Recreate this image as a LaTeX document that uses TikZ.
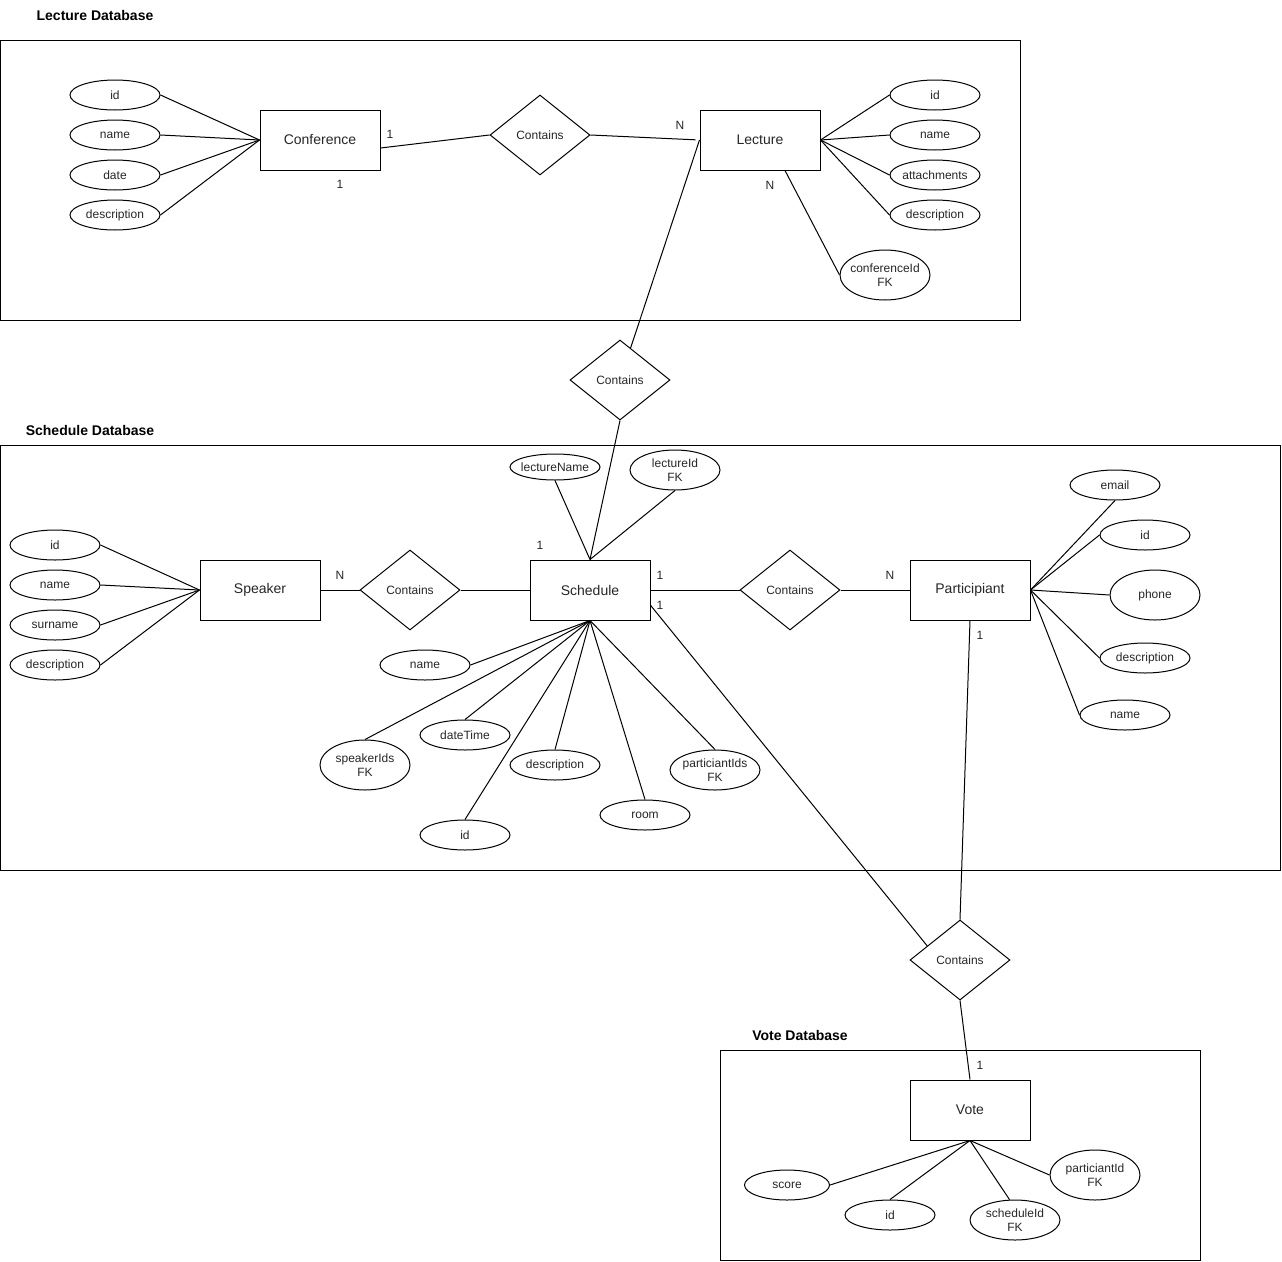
\documentclass[tikz,border=0pt]{standalone}
\usepackage{fontspec}
\setmainfont{Liberation Sans}
\usetikzlibrary{shapes.geometric,calc}

\begin{document}
\begin{tikzpicture}[x=1pt,y=-1pt,line width=1pt,
    every node/.style={text=black!85,font=\fontsize{12}{14}\selectfont},
    entity/.style={draw=black,rectangle,minimum width=120pt,minimum height=60pt,inner sep=0pt,font=\fontsize{14}{16}\selectfont},
    attr/.style={draw=black,ellipse,minimum width=90pt,minimum height=30pt,inner xsep=-12pt,inner ysep=-2pt,align=center},
    rel/.style={draw=black,diamond,aspect=1.25,minimum width=100pt,minimum height=80pt,inner sep=0pt},
    dbframe/.style={draw=black},
    dbtitle/.style={text=black,font=\bfseries\fontsize{14}{16}\selectfont},
    card/.style={inner sep=0pt}]
    \useasboundingbox (0,0) rectangle (1282,1261);
    % Lecture database
    \draw[dbframe] (0.5,40) rectangle (1020,320);
    \node[dbtitle] (lectitle) at (95,15) {Lecture Database};
    \node[entity] (conf) at (320,140) {Conference};
    \node[attr] (confid) at (115,95) {id};
    \node[attr] (confname) at (115,135) {name};
    \node[attr] (confdate) at (115,175) {date};
    \node[attr] (confdesc) at (115,215) {description};
    \node[rel] (contlec) at (540,135) {Contains};
    \node[entity] (lec) at (760,140) {Lecture};
    \node[attr] (lecid) at (935,95) {id};
    \node[attr] (lecname) at (935,135) {name};
    \node[attr] (lecatt) at (935,175) {attachments};
    \node[attr] (lecdesc) at (935,215) {description};
    \node[attr,minimum height=50pt] (lecconf) at (885,275) {conferenceId\\FK};
    \foreach \a in {confid,confname,confdate,confdesc}
        \draw (\a.east) -- (conf.west);
    \foreach \a in {lecid,lecname,lecatt,lecdesc}
        \draw (lec.east) -- (\a.west);
    \draw ($(conf.east)+(0,8)$) -- (contlec.west);
    \draw[shorten >=4pt] (contlec.east) -- (lec.west);
    \draw ($(lec.south)+(25,0)$) -- (lecconf.west);
    \node[card] (n1) at (390,134) {1};
    \node[card] (n2) at (340,184) {1};
    \node[card] (n3) at (680,125) {N};
    \node[card] (n4) at (770,185) {N};
    % Lecture to schedule
    \node[rel] (contsch) at (620,380) {Contains};
    \draw (lec.west) -- (contsch);
    % Schedule database
    \draw[dbframe] (0.5,445) rectangle (1280,870);
    \node[dbtitle] (schtitle) at (90,430) {Schedule Database};
    \node[entity] (spk) at (260,590) {Speaker};
    \node[attr] (spkid) at (55,545) {id};
    \node[attr] (spkname) at (55,585) {name};
    \node[attr] (spksur) at (55,625) {surname};
    \node[attr] (spkdesc) at (55,665) {description};
    \node[rel] (contspk) at (410,590) {Contains};
    \node[entity] (sch) at (590,590) {Schedule};
    \node[rel] (contpart) at (790,590) {Contains};
    \node[entity] (part) at (970,590) {Participiant};
    \node[attr,minimum height=26pt] (schlname) at (555,467) {lectureName};
    \node[attr,minimum height=40pt] (schlid) at (675,470) {lectureId\\FK};
    \node[attr] (schname) at (425,665) {name};
    \node[attr,minimum height=50pt] (schspk) at (365,765) {speakerIds\\FK};
    \node[attr] (schdate) at (465,735) {dateTime};
    \node[attr] (schid) at (465,835) {id};
    \node[attr] (schdesc) at (555,765) {description};
    \node[attr] (schroom) at (645,815) {room};
    \node[attr,minimum height=40pt] (schpart) at (715,770) {particiantIds\\FK};
    \node[attr] (partmail) at (1115,485) {email};
    \node[attr] (partid) at (1145,535) {id};
    \node[attr,minimum height=50pt] (partphone) at (1155,595) {phone};
    \node[attr] (partdesc) at (1145,658) {description};
    \node[attr] (partname) at (1125,715) {name};
    \foreach \a in {spkid,spkname,spksur,spkdesc}
        \draw (\a.east) -- (spk.west);
    \foreach \a in {schspk,schdate,schid,schdesc,schroom,schpart}
        \draw (sch.south) -- (\a.north);
    \draw (sch.south) -- (schname.east);
    \draw (schlname.south) -- (sch.north);
    \draw (schlid.south) -- (sch.north);
    \draw (contsch.south) -- (sch.north);
    \draw (partmail.south) -- (part.east);
    \foreach \a in {partid,partphone,partdesc,partname}
        \draw (part.east) -- (\a.west);
    \draw (spk.east) -- (contspk.west);
    \draw (contspk.east) -- (sch.west);
    \draw (sch.east) -- (contpart.west);
    \draw (contpart.east) -- (part.west);
    \node[card] (n5) at (340,575) {N};
    \node[card] (n6) at (540,545) {1};
    \node[card] (n7) at (660,575) {1};
    \node[card] (n8) at (660,605) {1};
    \node[card] (n9) at (890,575) {N};
    \node[card] (n10) at (980,635) {1};
    % Schedule and participiant to vote
    \node[rel] (contvote) at (960,960) {Contains};
    \draw ($(sch.east)!0.5!(sch.south east)$) -- ($(contvote.west)!0.35!(contvote.north)$);
    \draw (part.south) -- (contvote.north);
    % Vote database
    \draw[dbframe] (720,1050) rectangle (1200,1260);
    \node[dbtitle] (votetitle) at (800,1035) {Vote Database};
    \node[entity] (vote) at (970,1110) {Vote};
    \node[attr,minimum width=85pt] (votescore) at (787,1185) {score};
    \node[attr] (voteid) at (890,1215) {id};
    \node[attr,minimum height=40pt] (votesch) at (1015,1220) {scheduleId\\FK};
    \node[attr,minimum height=50pt] (votepart) at (1095,1175) {particiantId\\FK};
    \draw (contvote.south) -- (vote.north);
    \draw (vote.south) -- (votescore.east);
    \draw (vote.south) -- (voteid.north);
    \draw (vote.south) -- (votesch.105);
    \draw (vote.south) -- (votepart.west);
    \node[card] (n11) at (980,1065) {1};
\end{tikzpicture}
\end{document}
